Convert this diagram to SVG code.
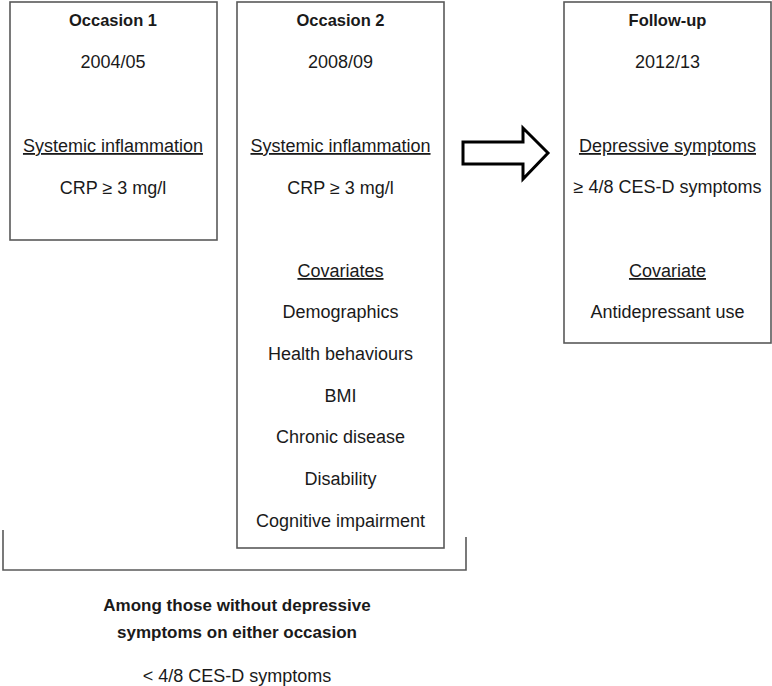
<svg xmlns="http://www.w3.org/2000/svg" width="772" height="686" viewBox="0 0 772 686">
<style>
.box{fill:#fff;stroke:#595959;stroke-width:1.6}
text{font-family:"Liberation Sans",Arial,sans-serif;font-size:18px;fill:#1a1a1a;text-anchor:middle}
.b{font-weight:bold;font-size:16.5px}
.u{text-decoration:underline}
.conn{fill:none;stroke:#595959;stroke-width:1.6}
</style>
<rect width="772" height="686" fill="#fff"/>
<g id="occasion1">
<rect class="box" x="10" y="2" width="207" height="238"/>
<text class="b" x="113" y="26">Occasion 1</text>
<text x="113" y="68">2004/05</text>
<text class="u" x="113" y="152">Systemic inflammation</text>
<text x="113" y="194">CRP ≥ 3 mg/l</text>
</g>
<g id="occasion2">
<rect class="box" x="237" y="2" width="207" height="546"/>
<text class="b" x="340.5" y="26">Occasion 2</text>
<text x="340.5" y="68">2008/09</text>
<text class="u" x="340.5" y="152">Systemic inflammation</text>
<text x="340.5" y="194">CRP ≥ 3 mg/l</text>
<text class="u" x="340.5" y="277">Covariates</text>
<text x="340.5" y="318">Demographics</text>
<text x="340.5" y="360">Health behaviours</text>
<text x="340.5" y="402">BMI</text>
<text x="340.5" y="443">Chronic disease</text>
<text x="340.5" y="485">Disability</text>
<text x="340.5" y="527">Cognitive impairment</text>
</g>
<g id="followup">
<rect class="box" x="564" y="2" width="207" height="341"/>
<text class="b" x="667.5" y="26">Follow-up</text>
<text x="667.5" y="68">2012/13</text>
<text class="u" x="667.5" y="152">Depressive symptoms</text>
<text x="667.5" y="193">≥ 4/8 CES-D symptoms</text>
<text class="u" x="667.5" y="277">Covariate</text>
<text x="667.5" y="318">Antidepressant use</text>
</g>
<g id="connectors">
<polygon points="463,142 523,142 523,128 548,153 523,179 523,164 463,164" fill="#fff" stroke="#000" stroke-width="3" stroke-linejoin="miter"/>
<polyline class="conn" points="3,530 3,570 466,570 466,537"/>
</g>
<g id="note">
<text class="b" x="237" y="611" style="font-size:17px">Among those without depressive</text>
<text class="b" x="237" y="638" style="font-size:17px">symptoms on either occasion</text>
<text x="237" y="682">&lt; 4/8 CES-D symptoms</text>
</g>
</svg>
